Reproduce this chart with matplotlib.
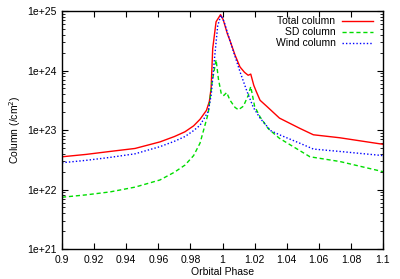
import math

import matplotlib
matplotlib.use("Agg")
import matplotlib.pyplot as plt
from matplotlib.ticker import LogLocator, FuncFormatter, MultipleLocator, NullFormatter

plt.rcParams["font.family"] = ["Liberation Sans", "DejaVu Sans"]

# log10(column)
total_phase = [0.900, 0.915, 0.930, 0.9455, 0.961, 0.970, 0.9766, 0.982, 0.986, 0.990,
               0.9918, 0.9929, 0.9939, 0.996, 0.9988, 1.0005, 1.003, 1.0047, 1.0078, 1.0109,
               1.0137, 1.016, 1.0176, 1.0195, 1.021, 1.0234, 1.0275, 1.0355, 1.048, 1.0566,
               1.073, 1.1]
total_log = [22.55, 22.59, 22.64, 22.69, 22.80, 22.89, 22.97, 23.07, 23.18, 23.33,
             23.48, 23.70, 24.37, 24.82, 24.94, 24.85, 24.62, 24.50, 24.26, 24.06,
             23.97, 23.92, 23.94, 23.75, 23.65, 23.50, 23.40, 23.20, 23.03, 22.92,
             22.87, 22.76]

sd_phase = [0.900, 0.915, 0.930, 0.9455, 0.961, 0.970, 0.9766, 0.982, 0.986, 0.9911,
            0.9935, 0.996, 0.9975, 0.9993, 1.0008, 1.0026, 1.0047, 1.0078, 1.0099, 1.013,
            1.016, 1.0176, 1.0200, 1.0234, 1.0286, 1.0355, 1.0545, 1.0732, 1.1]
sd_log = [21.87, 21.91, 21.96, 22.04, 22.16, 22.29, 22.41, 22.57, 22.78, 23.28,
          23.80, 24.18, 23.85, 23.60, 23.58, 23.63, 23.50, 23.38, 23.34, 23.40,
          23.58, 23.73, 23.40, 23.22, 23.02, 22.86, 22.55, 22.47, 22.30]

wind_phase = [0.900, 0.915, 0.930, 0.9455, 0.961, 0.970, 0.9766, 0.982, 0.986, 0.9911,
              0.993, 0.995, 0.997, 0.999, 1.001, 1.0035, 1.0067, 1.0109, 1.0151, 1.0192,
              1.0234, 1.030, 1.0355, 1.048, 1.0566, 1.073, 1.1]
wind_log = [22.45, 22.49, 22.54, 22.60, 22.72, 22.81, 22.89, 22.99, 23.08, 23.31,
            23.60, 24.20, 24.75, 24.93, 24.82, 24.60, 24.33, 23.98, 23.66, 23.38,
            23.20, 22.99, 22.92, 22.78, 22.68, 22.64, 22.57]

fig = plt.figure(figsize=(4.0, 2.79), dpi=100)
ax = fig.add_axes([0.155, 0.1075, 0.8025, 0.853])

ax.plot(total_phase, [10 ** v for v in total_log], color="#ff0000", lw=1.0,
        label="Total column")
ax.plot(sd_phase, [10 ** v for v in sd_log], color="#00dd00", lw=1.0,
        ls=(0, (3, 2)), label="SD column")
ax.plot(wind_phase, [10 ** v for v in wind_log], color="#0000ff", lw=1.0,
        ls=(0, (1, 1.5)), label="Wind column")

ax.set_yscale("log")
ax.set_xlim(0.9, 1.1)
ax.set_ylim(1e21, 1e25)
ax.xaxis.set_major_locator(MultipleLocator(0.02))
ax.xaxis.set_major_formatter(FuncFormatter(lambda v, p: f"{v:g}"))
ax.yaxis.set_major_locator(LogLocator(base=10, numticks=10))
ax.yaxis.set_minor_locator(LogLocator(base=10, subs=range(2, 10), numticks=20))
ax.yaxis.set_minor_formatter(NullFormatter())
ax.yaxis.set_major_formatter(FuncFormatter(lambda v, p: f"1e+{int(round(math.log10(v)))}"))

ax.tick_params(which="both", direction="in", top=True, right=True, labelsize=7.5, pad=4)
ax.tick_params(which="major", length=4, width=0.8)
ax.tick_params(which="minor", length=2, width=0.6)
for s in ax.spines.values():
    s.set_linewidth(1.0)

ax.set_xlabel("Orbital Phase", fontsize=7.5, labelpad=2)
ax.set_ylabel("Column (/cm$^2$)", fontsize=7.5, labelpad=3)

ax.legend(loc="upper right", frameon=False, markerfirst=False, fontsize=7.5,
          handlelength=3.0, labelspacing=0.1, borderaxespad=0.0, borderpad=0.2,
          handletextpad=0.6, bbox_to_anchor=(0.975, 0.987))

fig.savefig("out.png", dpi=100)
